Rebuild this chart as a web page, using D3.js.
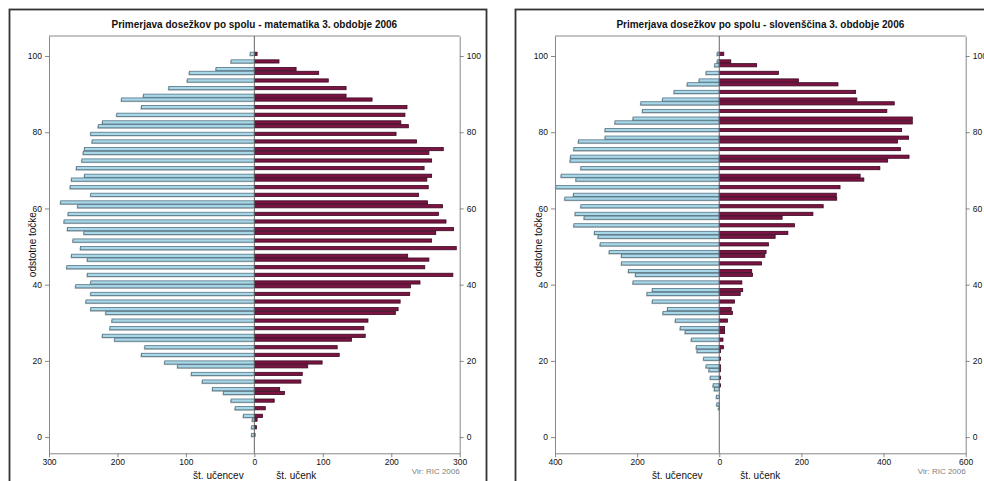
<!DOCTYPE html>
<html>
<head>
<meta charset="utf-8">
<title>Primerjava dosežkov po spolu 2006</title>
<script src="https://d3js.org/d3.v7.min.js"></script>
<style>
  html, body { margin: 0; background: #fff; overflow: hidden; }
  text { font-family: "Liberation Sans", Arial, sans-serif; fill: #111; }
  .axis path, .axis line { stroke: #888; }
</style>
</head>
<body>
<svg width="984" height="481"></svg>
<script>
// matematika - odstotne točke, št. učencev (levo), št. učenk (desno)
const matScores = [100, 98, 96, 95, 93, 91, 89, 88, 86, 84, 82, 81, 79, 77, 75, 74, 72, 70, 68, 67,
  65, 63, 61, 60, 58, 56, 54, 53, 51, 49, 47, 46, 44, 42, 40, 39, 37, 35, 33, 32,
  30, 28, 26, 25, 23, 21, 19, 18, 16, 14, 12, 11, 9, 7, 5, 4, 2, 0];
const matBoys = [6, 34, 56, 95, 98, 125, 162, 194, 165, 201, 222, 228, 239, 237, 248, 250, 252, 260, 248, 267,
  269, 239, 283, 258, 272, 278, 273, 249, 265, 254, 267, 244, 274, 244, 239, 261, 239, 246, 239, 217,
  208, 211, 222, 204, 160, 165, 131, 112, 92, 76, 61, 45, 34, 28, 16, 3, 4, 4];
const matGirls = [4, 36, 61, 94, 108, 134, 134, 172, 223, 220, 214, 225, 207, 237, 276, 255, 259, 248, 259, 252,
  254, 240, 253, 275, 269, 280, 291, 265, 259, 295, 224, 255, 249, 290, 242, 228, 227, 213, 210, 206,
  166, 160, 162, 142, 121, 124, 99, 78, 70, 68, 37, 44, 29, 16, 12, 4, 3, 1];

// slovenščina
const sloScores = [100, 98, 97, 95, 93, 92, 90, 88, 87, 85, 83, 82, 80, 78, 77, 75, 73, 72, 70, 68,
  67, 65, 63, 62, 60, 58, 57, 55, 53, 52, 50, 48, 47, 45, 43, 42, 40, 38, 37, 35,
  33, 32, 30, 28, 27, 25, 23, 22, 20, 18, 17, 15, 13, 12, 10, 8, 7];
const sloBoys = [5, 5, 11, 32, 49, 78, 110, 138, 191, 187, 210, 254, 278, 278, 343, 354, 362, 363, 337, 385,
  349, 398, 355, 376, 337, 351, 329, 354, 304, 295, 290, 268, 238, 238, 221, 204, 210, 163, 176, 163,
  126, 137, 107, 95, 83, 68, 56, 54, 38, 32, 25, 22, 15, 12, 7, 6, 2];
const sloGirls = [11, 28, 91, 144, 193, 289, 332, 335, 426, 408, 470, 470, 444, 461, 434, 441, 462, 410, 391, 343,
  352, 294, 285, 286, 253, 228, 153, 183, 167, 136, 120, 114, 111, 103, 79, 81, 55, 57, 51, 37,
  29, 32, 20, 13, 13, 9, 10, 3, 3, 3, 3, 3, 3, 0, 0, 0, 0];

const yTicks = [0, 20, 40, 60, 80, 100];
const matXTicks = [-300, -200, -100, 0, 100, 200, 300];
const sloXTicks = [-400, -200, 0, 200, 400, 600];

const svg = d3.select("svg");

function panel(opt) {
  const g = svg.append("g");
  const x0 = opt.frameX + 39.5, x1 = x0 + 410.7;
  const top = 36, bottom = 453.3;

  const x = d3.scaleLinear().domain(opt.xDomain).range([x0, x1]);
  const y = d3.scaleLinear().domain([-4.25, 105.25]).range([bottom, top]);

  // okvir
  g.append("rect")
    .attr("x", opt.frameX).attr("y", 9.5)
    .attr("width", 477).attr("height", 520)
    .attr("fill", "none").attr("stroke", "#333").attr("stroke-width", 1.8);

  g.append("text")
    .attr("x", (x0 + x1) / 2).attr("y", 28)
    .attr("text-anchor", "middle")
    .style("font-size", "10px").style("font-weight", "bold")
    .text(opt.title);

  // zgornji rob
  g.append("line")
    .attr("x1", x0).attr("x2", x1).attr("y1", top).attr("y2", top)
    .attr("stroke", "#888");

  const rows = opt.scores.map((s, i) => ({ s, boys: opt.boys[i], girls: opt.girls[i] }));
  const bh = d => y(d.s) - y(d.s + 1) - 0.6;

  // senca
  g.append("g").selectAll("rect")
    .data(rows.filter(d => d.boys > 0))
    .join("rect")
    .attr("x", d => x(-d.boys) - 1)
    .attr("y", d => y(d.s + 1) + 1)
    .attr("width", d => x(0) - x(-d.boys))
    .attr("height", bh)
    .attr("fill", "#bbb");

  g.append("g").selectAll("rect")
    .data(rows.filter(d => d.boys > 0))
    .join("rect")
    .attr("x", d => x(-d.boys))
    .attr("y", d => y(d.s + 1))
    .attr("width", d => x(0) - x(-d.boys))
    .attr("height", bh)
    .attr("fill", "#a8d8e8")
    .attr("stroke", "#557384").attr("stroke-width", 0.8);

  g.append("g").selectAll("rect")
    .data(rows.filter(d => d.girls > 0))
    .join("rect")
    .attr("x", x(0))
    .attr("y", d => y(d.s + 1))
    .attr("width", d => x(d.girls) - x(0))
    .attr("height", bh)
    .attr("fill", "#7b1442")
    .attr("stroke", "#3a0820").attr("stroke-width", 0.8);

  // sredinska črta
  g.append("line")
    .attr("x1", x(0)).attr("x2", x(0)).attr("y1", top).attr("y2", bottom)
    .attr("stroke", "#666");

  const tickFont = sel => sel.selectAll("text").style("font-size", "8.5px").attr("fill", "#111");

  g.append("g").attr("class", "axis")
    .attr("transform", `translate(${x0},0)`)
    .call(d3.axisLeft(y).tickValues(yTicks).tickSize(4).tickSizeOuter(0).tickPadding(3))
    .call(tickFont);

  g.append("g").attr("class", "axis")
    .attr("transform", `translate(${x1},0)`)
    .call(d3.axisRight(y).tickValues(yTicks).tickSize(4).tickSizeOuter(0).tickPadding(3))
    .call(tickFont);

  g.append("g").attr("class", "axis")
    .attr("transform", `translate(0,${bottom})`)
    .call(d3.axisBottom(x).tickValues(opt.xTicks).tickFormat(d => Math.abs(d))
      .tickSize(4).tickSizeOuter(0).tickPadding(2))
    .call(tickFont);

  g.append("text")
    .attr("transform", `translate(${x0 - 13.5},${(top + bottom) / 2}) rotate(-90)`)
    .attr("text-anchor", "middle")
    .style("font-size", "10px")
    .text("odstotne točke");

  g.append("text")
    .attr("x", x(0) - opt.labelL).attr("y", 479)
    .attr("text-anchor", "middle").style("font-size", "10px")
    .text("št. učencev");
  g.append("text")
    .attr("x", x(0) + opt.labelR).attr("y", 479)
    .attr("text-anchor", "middle").style("font-size", "10px")
    .text("št. učenk");

  g.append("text")
    .attr("x", x1).attr("y", 473.5)
    .attr("text-anchor", "end")
    .style("font-size", "8px").style("fill", "#808080")
    .text("Vir: RIC 2006");
}

panel({
  frameX: 9.5,
  title: "Primerjava dosežkov po spolu - matematika 3. obdobje 2006",
  xDomain: [-300, 300], xTicks: matXTicks,
  scores: matScores, boys: matBoys, girls: matGirls,
  labelL: 36, labelR: 42
});

panel({
  frameX: 515.5,
  title: "Primerjava dosežkov po spolu - slovenščina 3. obdobje 2006",
  xDomain: [-400, 600], xTicks: sloXTicks,
  scores: sloScores, boys: sloBoys, girls: sloGirls,
  labelL: 42, labelR: 41
});
</script>
</body>
</html>
